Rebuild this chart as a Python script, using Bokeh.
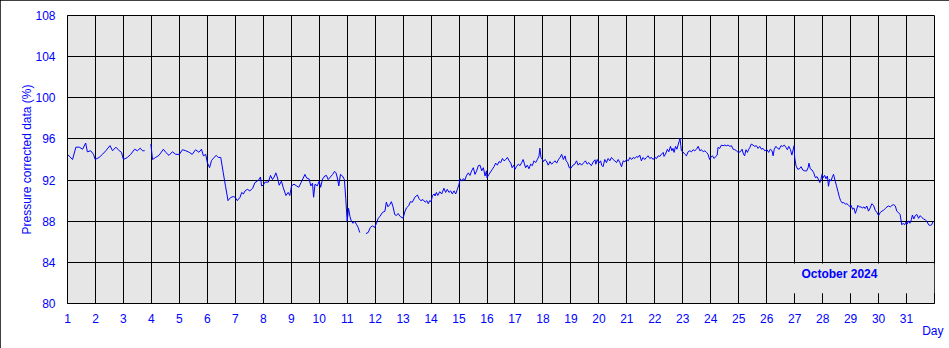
from bokeh.plotting import figure
from bokeh.models import Range1d, FixedTicker, Title
from bokeh.core.properties import value
from bokeh.embed import file_html
from bokeh.resources import INLINE

# ---- data (day of month, pressure corrected data %) ----
seg1_days = [1.00, 1.18, 1.30, 1.42, 1.54, 1.65, 1.71, 1.83, 1.93, 1.99, 2.13, 2.25, 2.37, 2.52, 2.61,
             2.73, 2.85, 2.93, 3.00, 3.14, 3.26, 3.40, 3.50, 3.60, 3.68, 3.76]
seg1_vals = [94.5, 94.0, 95.2, 95.2, 95.0, 95.6, 94.75, 94.85, 94.5, 94.0, 94.2, 94.5, 94.85, 95.35, 94.85,
             95.2, 94.85, 94.7, 94.0, 94.2, 94.5, 95.0, 94.85, 95.1, 94.85, 94.85]

seg2_days = [3.98, 4.04, 4.15, 4.27, 4.43, 4.51, 4.63, 4.75, 4.87, 5.00, 5.11, 5.23, 5.35, 5.46, 5.58,
             5.70, 5.79, 5.86, 5.94, 6.00, 6.08, 6.15, 6.24, 6.32, 6.39, 6.48, 6.57, 6.65, 6.74, 6.83,
             6.93, 7.00, 7.07, 7.17, 7.23, 7.29, 7.35, 7.43, 7.52, 7.62, 7.70, 7.79, 7.86, 7.90, 7.94,
             8.00, 8.06, 8.18, 8.26, 8.33, 8.39, 8.45, 8.51, 8.57, 8.65, 8.71, 8.81, 8.89, 8.95, 9.01,
             9.10, 9.19, 9.27, 9.35, 9.43, 9.49, 9.55, 9.64, 9.70, 9.76, 9.80, 9.85, 9.93, 10.00, 10.05,
             10.12, 10.20, 10.26, 10.32, 10.40, 10.48, 10.55, 10.60, 10.65, 10.70, 10.76, 10.83, 10.90,
             10.95, 11.00, 11.05, 11.10, 11.15, 11.21, 11.27, 11.33, 11.39, 11.45]
seg2_vals = [95.5, 94.0, 94.2, 94.4, 95.0, 94.7, 94.4, 94.75, 94.5, 94.5, 94.95, 94.85, 94.7, 94.5, 94.95,
             94.7, 95.0, 94.35, 94.5, 93.7, 93.2, 93.9, 94.2, 94.4, 94.2, 94.2, 92.7, 91.4, 90.0, 90.3,
             90.4, 90.3, 90.0, 90.33, 90.8, 90.65, 90.95, 91.1, 90.95, 91.2, 91.75, 91.9, 92.1, 92.3, 91.43,
             91.5, 91.8, 91.8, 92.45, 92.05, 92.3, 92.7, 92.2, 91.5, 91.9, 91.3, 90.5, 90.8, 90.5, 91.43,
             91.6, 91.43, 91.3, 91.75, 92.2, 92.55, 92.2, 92.1, 91.43, 91.7, 90.33, 91.6, 91.43, 91.9, 91.3,
             92.1, 92.4, 92.45, 92.05, 92.3, 92.55, 92.85, 92.7, 92.2, 91.43, 92.55, 92.4, 92.05,
             90.2, 88.0, 89.25, 88.45, 88.0, 87.8, 88.0, 87.7, 87.4, 86.9]

seg3_days = [11.67, 11.75, 11.83, 11.90, 11.98, 12.05, 12.11, 12.17, 12.26, 12.35, 12.40, 12.46, 12.52,
             12.58, 12.64, 12.70, 12.76, 12.82, 12.90, 13.00, 13.06, 13.12, 13.20, 13.26, 13.33, 13.42,
             13.51, 13.57, 13.63, 13.71, 13.79, 13.85, 13.90, 13.95, 14.00, 14.05, 14.11, 14.14, 14.19,
             14.24, 14.31, 14.38, 14.46, 14.52, 14.58, 14.64, 14.70, 14.76, 14.82, 14.88, 14.94, 15.00,
             15.04, 15.10, 15.15, 15.21, 15.26, 15.33, 15.39, 15.45, 15.51, 15.57, 15.63, 15.69, 15.75,
             15.81, 15.87, 15.93, 15.98, 16.00, 16.07, 16.13, 16.19, 16.25, 16.31, 16.37, 16.43, 16.49,
             16.55, 16.61, 16.67, 16.73, 16.79, 16.85, 16.90, 16.96, 17.00, 17.05, 17.12, 17.18, 17.24,
             17.29, 17.33, 17.38, 17.44, 17.50, 17.56, 17.62, 17.68, 17.74, 17.80, 17.86, 17.89, 17.93,
             17.98, 18.02, 18.07, 18.12, 18.19, 18.25, 18.31, 18.37, 18.43, 18.49, 18.55, 18.61, 18.67,
             18.73, 18.79, 18.83, 18.88, 18.94, 19.00, 19.07, 19.14, 19.20, 19.26, 19.32, 19.38, 19.46,
             19.52, 19.58, 19.64, 19.73, 19.80, 19.86, 19.89, 19.94, 20.00, 20.06, 20.10, 20.15, 20.21,
             20.27, 20.33, 20.39, 20.45, 20.51, 20.57, 20.63, 20.69, 20.75, 20.81, 20.87, 20.93, 20.99,
             21.05, 21.11, 21.17, 21.23, 21.29, 21.35, 21.40, 21.46, 21.52, 21.58, 21.64, 21.70, 21.76,
             21.82, 21.88, 21.94, 22.00, 22.06, 22.12, 22.18, 22.24, 22.30, 22.33, 22.38, 22.45, 22.50,
             22.56, 22.61, 22.65, 22.69, 22.74, 22.79, 22.83, 22.88, 22.90, 22.93, 22.95, 23.00, 23.07,
             23.13, 23.19, 23.25, 23.31, 23.37, 23.43, 23.49, 23.55, 23.61, 23.67, 23.73, 23.79, 23.85,
             23.90, 23.96, 24.00, 24.06, 24.12, 24.18, 24.23, 24.26, 24.32, 24.38, 24.44, 24.50, 24.56,
             24.62, 24.68, 24.74, 24.80, 24.86, 24.92, 24.98, 25.06, 25.12, 25.17, 25.21, 25.26, 25.31,
             25.36, 25.40, 25.45, 25.51, 25.57, 25.63, 25.69, 25.75, 25.81, 25.87, 25.93, 26.01, 26.07,
             26.13, 26.19, 26.23, 26.27, 26.33, 26.39, 26.45, 26.51, 26.57, 26.63, 26.69, 26.74, 26.79,
             26.85, 26.90, 26.95, 26.98, 27.00, 27.05, 27.11, 27.17, 27.23, 27.29, 27.36, 27.43, 27.48,
             27.51, 27.56, 27.62, 27.68, 27.74, 27.80, 27.86, 27.90, 27.94, 27.98, 28.02, 28.07, 28.12,
             28.17, 28.21, 28.25, 28.30, 28.35, 28.39, 28.44, 28.49, 28.55, 28.60, 28.64, 28.69, 28.76,
             28.81, 28.87, 28.93, 28.99, 29.02, 29.07, 29.12, 29.17, 29.21, 29.26, 29.31, 29.37, 29.42,
             29.48, 29.52, 29.58, 29.64, 29.70, 29.76, 29.82, 29.88, 29.94, 30.00, 30.06, 30.12, 30.18,
             30.24, 30.30, 30.36, 30.42, 30.48, 30.54, 30.60, 30.65, 30.71, 30.77, 30.83, 30.88, 30.93,
             30.98, 31.02, 31.07, 31.12, 31.17, 31.21, 31.26, 31.31, 31.37, 31.43, 31.49, 31.55, 31.61,
             31.67, 31.73, 31.79, 31.85, 31.90, 31.95]
seg3_vals = [86.8, 86.9, 87.4, 87.55, 87.4, 87.8, 88.3, 88.45, 88.85, 88.97, 89.85, 89.4, 89.6,
             89.9, 89.4, 88.65, 88.55, 88.75, 88.45, 88.3, 88.9, 89.3, 89.5, 89.9, 89.85, 90.33,
             90.55, 90.2, 90.0, 90.1, 89.85, 90.0, 89.7, 90.0, 89.9, 90.5, 90.65, 90.45, 90.8,
             90.5, 90.87, 90.65, 91.2, 90.8, 91.1, 90.8, 90.95, 90.65, 90.95, 90.65, 91.1, 91.6,
             92.13, 91.9, 92.13, 92.0, 92.4, 92.7, 92.45, 92.9, 93.2, 92.55, 92.9, 93.4, 93.45,
             92.9, 93.2, 92.4, 92.9, 92.23, 92.55, 92.8, 93.05, 93.3, 93.65, 93.45, 93.8, 93.7,
             94.1, 93.87, 94.0, 94.2, 93.87, 93.65, 93.2, 93.45, 93.05, 93.3, 93.55, 93.4, 93.7,
             94.0, 93.65, 93.2, 93.45, 93.1, 93.55, 93.4, 93.87, 93.7, 94.0, 94.35, 95.1, 94.2,
             94.0, 93.8, 94.0, 93.87, 93.45, 93.8, 93.55, 93.7, 93.87, 93.65, 93.97, 94.2, 94.5,
             94.0, 94.35, 93.87, 93.7, 93.2, 93.15, 93.45, 93.55, 93.87, 93.45, 93.65, 93.45, 93.7,
             93.87, 93.55, 93.7, 93.4, 93.77, 93.97, 93.54, 94.0, 93.65, 93.87, 93.45, 93.3, 94.0,
             93.7, 94.1, 93.87, 94.2, 94.0, 93.87, 93.7, 94.0, 93.7, 93.3, 93.87, 93.77, 94.0,
             93.87, 94.2, 94.0, 94.2, 94.1, 94.3, 94.2, 94.43, 93.87, 94.2, 94.0, 94.2, 94.36,
             94.1, 94.2, 94.0, 94.2, 94.1, 94.36, 94.3, 94.52, 94.69, 94.3, 94.52, 95.0, 94.75,
             95.28, 94.85, 95.08, 94.69, 95.28, 95.0, 95.4, 95.84, 96.07, 95.34, 94.85, 94.75, 94.52,
             94.36, 94.75, 94.85, 94.75, 94.95, 94.85, 95.0, 95.28, 94.85, 94.95, 94.75, 94.85, 94.69,
             94.52, 94.0, 94.2, 94.36, 94.1, 94.3, 94.43, 95.18, 95.08, 95.4, 95.34, 95.4, 95.34,
             95.4, 95.28, 95.34, 95.0, 94.95, 94.85, 94.69, 94.75, 95.0, 94.52, 94.36, 94.95, 94.69,
             95.0, 95.18, 95.5, 95.4, 95.28, 95.34, 95.08, 95.28, 95.0, 95.08, 94.85, 94.95, 94.69,
             95.0, 94.85, 94.36, 95.0, 95.28, 95.08, 95.0, 95.34, 95.28, 95.4, 95.18, 94.95, 95.28,
             94.95, 94.43, 95.0, 95.34, 94.2, 93.38, 93.05, 93.1, 93.3, 92.98, 92.89, 92.89, 93.2,
             93.64, 93.1, 92.98, 92.72, 92.23, 92.33, 92.0, 91.75, 92.07, 92.56, 92.23, 92.46, 92.13,
             92.39, 91.4, 92.07, 91.9, 92.33, 92.56, 92.0, 91.5, 90.87, 90.33, 90.02, 89.8, 89.8,
             89.67, 89.7, 89.54, 89.39, 89.54, 89.16, 89.29, 88.76, 89.07, 89.54, 89.39, 89.39, 89.29,
             89.39, 89.23, 89.48, 88.98, 89.29, 89.7, 89.54, 89.07, 88.85, 88.54, 88.85, 88.98, 89.07,
             89.23, 89.39, 89.48, 89.39, 89.54, 89.61, 89.48, 88.98, 88.85, 88.66, 87.65, 87.8, 87.65,
             87.9, 87.72, 88.03, 87.8, 88.13, 88.6, 88.22, 88.54, 88.66, 88.28, 88.54, 88.35, 88.22,
             88.13, 87.97, 87.65, 87.59, 87.65, 87.97]

x_ticks = list(range(1, 32))
x_grid = list(range(1, 33))
y_ticks = [80, 84, 88, 92, 96, 100, 104, 108]
title_text = "October 2024"
y_title = "Pressure corrected data (%)"
x_title = "Day"

BLUE = "#0000FF"
FONT = "Liberation Sans"

p = figure(width=949, height=348, output_backend="svg", toolbar_location=None,
           x_range=Range1d(1, 32), y_range=Range1d(80, 108),
           min_border_left=67, min_border_right=15, min_border_top=15, min_border_bottom=45)
p.background_fill_color = "#E6E6E6"
p.border_fill_color = "white"
p.outline_line_color = "black"
p.outline_line_width = 1
p.styles = {"outline": "1px solid black", "outline-offset": "-1px"}

p.xaxis.ticker = FixedTicker(ticks=x_ticks)
p.yaxis.ticker = FixedTicker(ticks=y_ticks)
p.xgrid.ticker = FixedTicker(ticks=x_grid)
p.ygrid.ticker = FixedTicker(ticks=y_ticks)
for g in (p.xgrid, p.ygrid):
    g.grid_line_color = "black"
    g.grid_line_alpha = 1.0
    g.grid_line_width = 1

for ax in (p.xaxis, p.yaxis):
    ax.major_tick_line_color = None
    ax.minor_tick_line_color = None
    ax.axis_line_color = "black"
    ax.major_label_text_color = BLUE
    ax.major_label_text_font = FONT
    ax.major_label_text_font_size = "12px"
p.xaxis.major_label_standoff = 4
p.yaxis.major_label_standoff = 6
p.yaxis.axis_label = y_title
p.yaxis.axis_label_text_color = BLUE
p.yaxis.axis_label_text_font = FONT
p.yaxis.axis_label_text_font_size = "12px"
p.yaxis.axis_label_text_font_style = "normal"
p.yaxis.axis_label_standoff = -2

# label box
p.quad(left=[26.05], right=[32], bottom=[81.0], top=[83.9], fill_color="#E6E6E6", line_color=None)
p.text(x=[28.6], y=[82.83], text=[title_text], text_font=value(FONT), text_font_style="bold",
       text_font_size="12px", text_color=BLUE, text_align="center", text_baseline="middle")

for d, v in ((seg1_days, seg1_vals), (seg2_days, seg2_vals), (seg3_days, seg3_vals)):
    p.line(d, v, line_color=BLUE, line_width=1)

p.add_layout(Title(text=x_title, align="right", offset=-9, standoff=-4, vertical_align="top",
                   text_font=FONT, text_font_size="12px", text_font_style="normal",
                   text_color=BLUE), "below")

open("out.html", "w").write(file_html(p, INLINE))
